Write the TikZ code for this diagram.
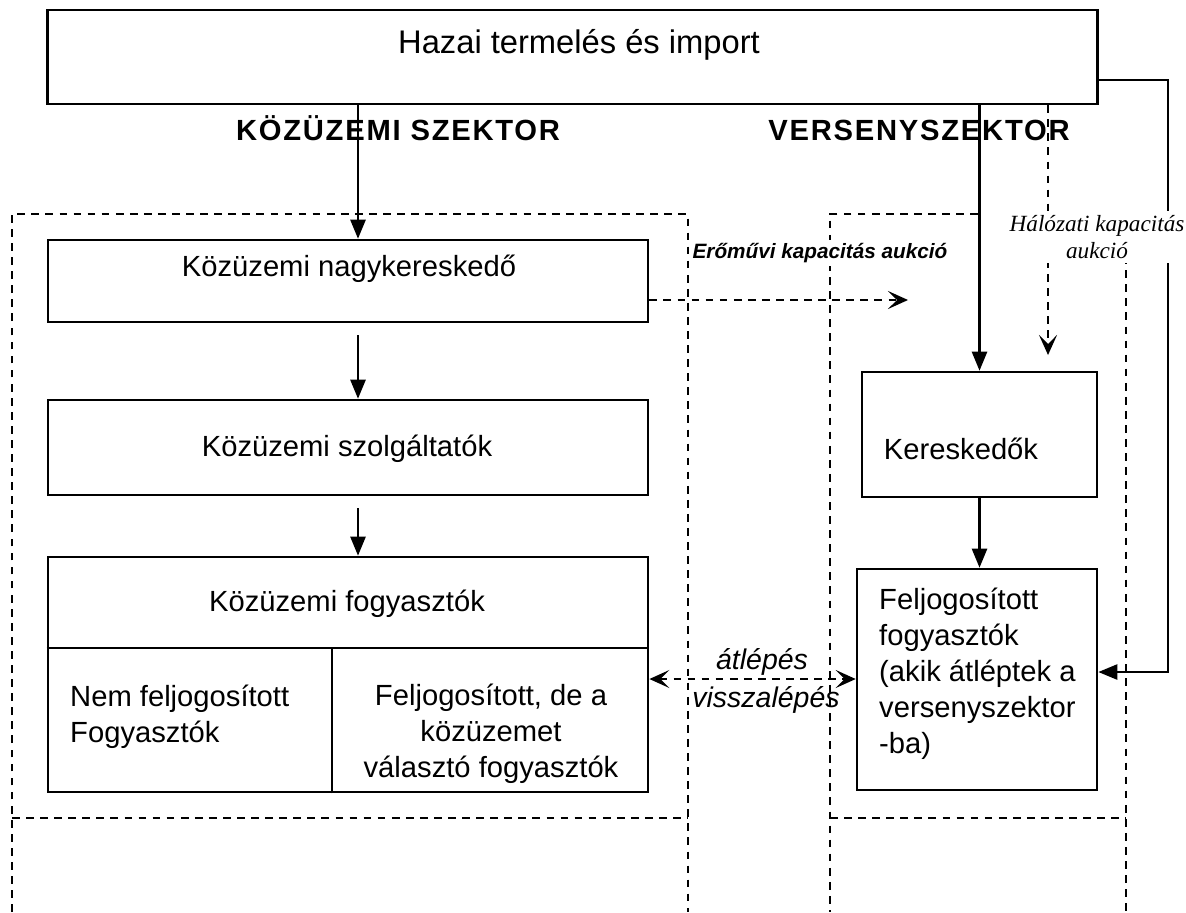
\documentclass[tikz,border=0pt]{standalone}
\usepackage{fontspec}
\setmainfont{Liberation Sans}
\newfontfamily\serifit{Liberation Serif}
\usetikzlibrary{arrows.meta,positioning,calc}
\tikzset{
  box/.style={draw,line width=0.7pt,inner sep=0pt},
  txt/.style={font=\fontsize{8.3}{10.2}\selectfont,inner sep=1pt},
  ittxt/.style={font=\fontsize{8.1}{10}\selectfont\itshape,inner sep=1pt},
  szektor/.style={font=\fontsize{8.3}{10}\selectfont\bfseries\addfontfeature{LetterSpace=6},inner sep=1pt},
  arr/.style={line width=0.7pt,-{Triangle[length=1.9mm,width=1.5mm]}},
  dline/.style={line width=0.6pt,dash pattern=on 2.2pt off 1.8pt},
  darr/.style={dline,-{Stealth[length=2mm,width=1.8mm,inset=0.9mm]}},
  ddarr/.style={dline,{Stealth[length=2mm,width=1.8mm,inset=0.9mm]}-{Stealth[length=2mm,width=1.8mm,inset=0.9mm]}},
  frame/.style={dline},
}
\begin{document}
\begin{tikzpicture}[x=0.01cm,y=-0.01cm]
\useasboundingbox (0,0) rectangle (1186,912);
% dashed sector frames
\draw[frame] (12,912) -- (12,214) -- (688,214) -- (688,912);
\draw[frame] (978,214) -- (830,214) -- (830,912);
\draw[frame] (1126,214) -- (1126,912);
\foreach \xa/\xb in {12/688,830/1126}
  \draw[frame] (\xa,818) -- (\xb,818);
% boxes
\node[box,minimum width=10.49cm,minimum height=0.94cm] (top) at (572.5,57) {};
\node[txt,font=\fontsize{9.3}{11}\selectfont] (toptxt) at (579,45) {Hazai termelés és import};
\node[szektor] (kozsz) at (398,128) {KÖZÜZEMI SZEKTOR};
\node[szektor] (versz) at (919,130) {VERSENYSZEKTOR};
\node[box,minimum width=6.00cm,minimum height=0.82cm] (nagy) at (348,281) {};
\node[txt] (nagytxt) at (349,269) {Közüzemi nagykereskedő};
\node[box,minimum width=6.00cm,minimum height=0.95cm] (szolg) at (348,447.5) {};
\node[txt] (szolgtxt) at (347,449) {Közüzemi szolgáltatók};
\node[box,minimum width=6.00cm,minimum height=2.35cm] (fogy) at (348,674.5) {};
\draw[line width=0.7pt] ([yshift=-0.92cm]fogy.north west) -- ([yshift=-0.92cm]fogy.north east);
\draw[line width=0.7pt] ([xshift=2.85cm]fogy.south west) -- ([xshift=2.85cm,yshift=-0.92cm]fogy.north west);
\node[txt] (fogytxt) at (347,604) {Közüzemi fogyasztók};
\node[txt,align=left,anchor=west] (nemfel) at (66,717) {Nem feljogosított\\Fogyasztók};
\node[txt,align=center] (felkoz) at (491,734) {Feljogosított, de a\\közüzemet\\választó fogyasztók};
\node[box,minimum width=2.35cm,minimum height=1.25cm] (keresk) at (979.5,434.5) {};
\node[txt] (kerestxt) at (961,449) {Kereskedők};
\node[box,minimum width=2.40cm,minimum height=2.21cm] (feljog) at (977,679.5) {};
\node[txt,align=left,anchor=west] (feljogtxt) at (875,674) {Feljogosított\\fogyasztók\\(akik átléptek a\\versenyszektor\\-ba)};
% connectors
\coordinate (kin) at (358,0);
\coordinate (eromu) at (908,300);
\coordinate (halo) at (1048,355);
\coordinate (jobb) at (1168,672);
\coordinate (atl) at (750,679);
\draw[arr] (top.south -| kin) -- (nagy.north -| kin);
\draw[arr,shorten <=0.12cm] (nagy.south -| kin) -- (szolg.north -| kin);
\draw[arr,shorten <=0.12cm] (szolg.south -| kin) -- (fogy.north -| kin);
\draw[arr] (top.south -| keresk.north) -- (keresk.north);
\draw[arr] (keresk.south) -- (feljog.north -| keresk.south);
\draw[arr] ([yshift=-0.23cm]top.east) -| (jobb) -- (feljog.east |- jobb);
\draw[darr] (nagy.east |- eromu) -- (eromu);
\draw[darr] (top.south -| halo) -- (halo);
\draw[ddarr] (fogy.east |- atl) -- (feljog.west |- atl);
% labels
\node[ittxt] (atlep) at (762,662) {átlépés};
\node[ittxt] (vissza) at (766,700) {visszalépés};
\node[font=\fontsize{5.9}{7}\selectfont\bfseries\itshape,fill=white,inner sep=1pt] (erolab) at (820,253) {Erőművi kapacitás aukció};
\node[font=\serifit\fontsize{6.6}{7.9}\selectfont\itshape,fill=white,align=center,inner sep=1pt] (halolab) at (1097,237) {Hálózati kapacitás\\aukció};
\end{tikzpicture}
\end{document}
